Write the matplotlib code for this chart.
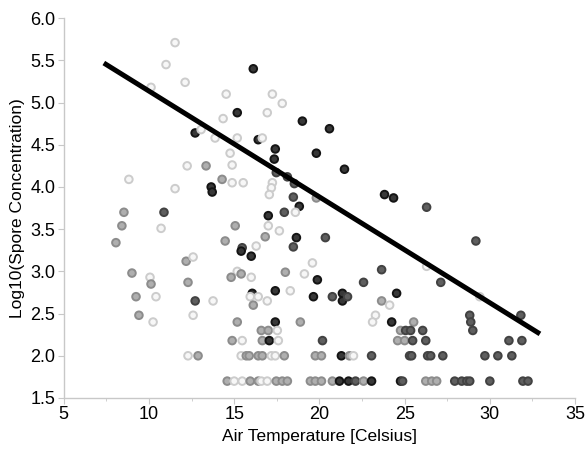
import matplotlib
matplotlib.use("Agg")
import matplotlib.pyplot as plt
import numpy as np

plt.rcParams["font.family"] = ["Liberation Sans", "DejaVu Sans"]

# gray shade of each observation: k=black, d=dark, m=mid, l=light
SHADES = {"k": 0.08, "d": 0.26, "m": 0.55, "l": 0.80}

# scattered observations (air temperature, log10 spore concentration, shade)
temp_hi = [11.53, 11.0, 12.12, 10.12, 12.71, 13.06, 13.88, 16.12, 14.53, 17.24,
           17.82, 15.18, 14.35, 16.94, 19.0, 20.59, 16.41, 16.65, 15.18, 17.41,
           14.76, 17.35, 14.88, 19.82, 21.47, 17.47, 18.12, 14.29, 14.88, 15.53,
           13.65, 13.71, 17.24, 17.18, 17.06, 18.53, 18.47, 19.82, 18.82, 17.94,
           18.59, 17.0, 15.06, 17.0, 17.65, 16.82, 18.65, 20.35, 14.47, 15.47,
           16.29, 18.47, 15.41, 16.0, 19.59, 23.82, 24.35, 26.29, 29.18]
conc_hi = [5.71, 5.45, 5.24, 5.18, 4.64, 4.68, 4.58, 5.40, 5.10, 5.10,
           4.99, 4.88, 4.81, 4.88, 4.78, 4.69, 4.56, 4.58, 4.58, 4.45,
           4.40, 4.33, 4.26, 4.40, 4.21, 4.17, 4.12, 4.09, 4.05, 4.05,
           4.00, 3.94, 4.05, 3.99, 3.91, 4.04, 3.88, 3.87, 3.77, 3.70,
           3.70, 3.66, 3.54, 3.54, 3.48, 3.41, 3.40, 3.40, 3.36, 3.28,
           3.30, 3.29, 3.24, 3.18, 3.10, 3.91, 3.87, 3.76, 3.36]
shade_hi = "llllkllkll lkllkkkllk lklkkddmll kklllddmkd lkmllmkdmd ldkklkkdd"

temp_lo = [8.82, 12.24, 13.35, 11.53, 8.53, 10.88, 8.41, 10.71, 8.06, 12.18,
           12.59, 9.0, 10.06, 10.12, 9.24, 10.41, 9.41, 10.24, 12.29, 12.71,
           13.76, 12.59, 12.29, 12.88, 15.18, 15.41, 14.82, 16.0, 16.06, 15.94,
           16.41, 16.12, 15.18, 14.88, 15.47, 15.41, 15.71, 18.0, 19.12, 19.88,
           22.59, 23.65, 26.29, 27.12, 17.41, 18.29, 16.94, 19.65, 20.76, 21.35,
           21.35, 21.65, 24.53, 23.65, 24.12, 23.29, 23.12, 29.41, 17.41, 18.88,
           24.24, 25.53, 28.82, 28.88, 29.0, 31.82]
conc_lo = [4.09, 4.25, 4.25, 3.98, 3.70, 3.70, 3.54, 3.51, 3.34, 3.12,
           3.17, 2.98, 2.93, 2.85, 2.70, 2.70, 2.48, 2.40, 2.87, 2.65,
           2.65, 2.48, 2.00, 2.00, 3.00, 2.97, 2.93, 2.93, 2.74, 2.70,
           2.70, 2.60, 2.40, 2.18, 2.18, 2.00, 2.00, 2.99, 2.97, 2.90,
           2.87, 3.02, 3.06, 2.87, 2.77, 2.77, 2.65, 2.70, 2.70, 2.74,
           2.65, 2.70, 2.74, 2.65, 2.60, 2.48, 2.40, 2.70, 2.40, 2.40,
           2.40, 2.40, 2.48, 2.40, 2.30, 2.48]
shade_lo = "llmlmdmlmm lmlmmlmlmd lllmlmmlkl lmmmllmmlk ddldkllkdk kdkmllllkm kmdddd"

# detection-limit rows (values sit on fixed log levels)
temp_230 = [16.59, 17.0, 17.53, 24.76, 25.06, 25.35, 26.06]
shade_230 = "mmlmddd"
temp_218 = [16.65, 17.06, 17.59, 20.18, 24.59, 25.0, 25.47, 26.24, 31.12, 31.88]
shade_218 = "mkldmmdddd"
temp_200 = [15.88, 16.41, 16.65, 17.18, 17.41, 17.94, 19.76, 20.12, 21.29, 21.76,
            22.0, 23.06, 25.29, 25.41, 26.35, 26.53, 27.24, 29.71, 30.47, 31.29]
shade_200 = "mmmllmmmkm lddddddddd"
temp_170 = [14.59, 15.0, 15.47, 15.94, 16.41, 16.59, 16.94, 17.47, 17.82, 18.12,
            19.47, 19.76, 20.12, 20.76, 21.18, 21.71, 22.12, 22.59, 23.06, 24.76,
            24.88, 26.24, 26.59, 26.88, 27.94, 28.35, 28.65, 28.82, 30.0, 31.94,
            32.24]
shade_170 = "mllmmllmmm mmmmkkdmkk dmmmddddddd"

# linear fit drawn over the data
fit_intercept = 6.39
fit_slope = -0.1254
fit_x_range = [7.35, 32.94]

temps = temp_hi + temp_lo + temp_230 + temp_218 + temp_200 + temp_170
concs = (conc_hi + conc_lo + [2.30] * len(temp_230) + [2.18] * len(temp_218)
         + [2.00] * len(temp_200) + [1.70] * len(temp_170))
shade_codes = "".join((shade_hi + shade_lo + shade_230 + shade_218
                       + shade_200 + shade_170).split())
assert len(shade_codes) == len(temps) == len(concs)

gray = np.array([SHADES[c] for c in shade_codes])
edge = np.column_stack([gray, gray, gray])
face_g = gray + (1 - gray) * np.where(gray > 0.7, 0.85, np.where(gray > 0.4, 0.3, 0.15))
face = np.column_stack([face_g, face_g, face_g])

fig = plt.figure(figsize=(5.85, 4.49), dpi=100)
ax = fig.add_axes([0.109, 0.1136, 0.874, 0.846])

ax.scatter(temps, concs, s=30, facecolors=face, edgecolors=edge, linewidths=1.4, zorder=2)

fx = np.array(fit_x_range)
ax.plot(fx, fit_intercept + fit_slope * fx, color="black", lw=3.6,
        solid_capstyle="butt", zorder=3)

ax.set_xlim(5, 35)
ax.set_ylim(1.5, 6.0)
ax.set_xticks(np.arange(5, 36, 5))
ax.set_xticks(np.arange(7.5, 35, 5), minor=True)
ax.set_yticks(np.arange(1.5, 6.01, 0.5))
ax.set_yticklabels([f"{v:.1f}" for v in np.arange(1.5, 6.01, 0.5)])

for side in ("top", "right"):
    ax.spines[side].set_visible(False)
for side in ("left", "bottom"):
    ax.spines[side].set_color("#c8c8c8")
    ax.spines[side].set_linewidth(1.0)
ax.tick_params(which="both", color="#c8c8c8", direction="out", length=4,
               labelsize=13, labelcolor="black", pad=2)
ax.tick_params(which="minor", length=2.5)

ax.set_xlabel("Air Temperature [Celsius]", fontsize=12.5, color="black", labelpad=4)
ax.set_ylabel("Log10(Spore Concentration)", fontsize=12.5, color="black", labelpad=4)

fig.savefig("out.png", dpi=100)
